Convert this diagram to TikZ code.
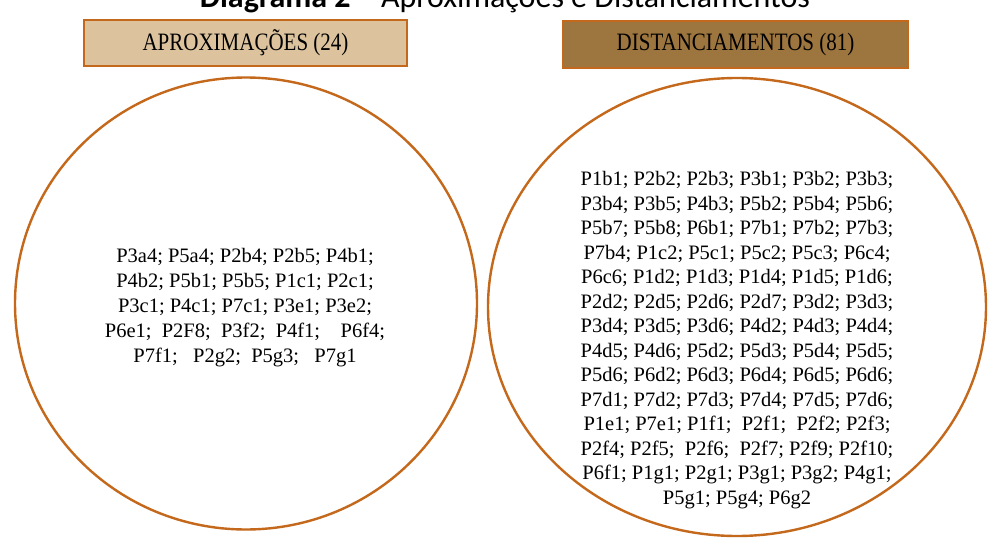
\documentclass[tikz,border=0pt]{standalone}
\usepackage{graphicx}
\usepackage{fontspec}
\setmainfont{Liberation Serif}
\newfontfamily\headfont{Carlito}
\usetikzlibrary{shapes.geometric}

\definecolor{rimorange}{RGB}{196,104,28}
\definecolor{tanfill}{RGB}{220,195,158}
\definecolor{brownfill}{RGB}{157,117,62}

% soft grey fade towards the corners of the slide area
\pgfdeclareradialshading{slidefade}{\pgfpoint{0bp}{0bp}}{%
  color(0bp)=(white); color(46bp)=(white); color(72bp)=(black!10)}

% narrow header lettering
\newcommand{\narrowcaps}[1]{\scalebox{0.84}[1]{#1}}

\tikzset{
  labelbox/.style={draw=rimorange, line width=2.4pt, inner sep=0pt,
    font=\fontsize{25}{28}\selectfont},
  setring/.style={ellipse, draw=rimorange, line width=2.4pt, inner sep=0pt},
  codelist/.style={align=center, inner sep=0pt, text=black}
}

\begin{document}
\begin{tikzpicture}[x=1pt,y=-1pt]
\useasboundingbox (0,0) rectangle (988,543);
\clip (0,0) rectangle (988,543);

% slide background
\path[shading=slidefade] (7,10) rectangle (988,543);

% caption, partly above the visible area
\node[anchor=base, inner sep=0pt, font=\headfont\fontsize{32}{36}\selectfont] (caption)
  at (505,8) {\textbf{Diagrama 2} – Aproximações e Distanciamentos};

% category headers
\node[labelbox, fill=tanfill, minimum width=323pt, minimum height=46pt] (aprox)
  at (245.5,43) {\narrowcaps{APROXIMAÇÕES (24)}};
\node[labelbox, fill=brownfill, minimum width=345pt, minimum height=47pt] (dist)
  at (735.5,44.5) {\narrowcaps{DISTANCIAMENTOS (81)}};

% the two sets
\node[setring, minimum width=462pt, minimum height=452pt] (ringA) at (246,303.5) {};
\node[setring, minimum width=498pt, minimum height=458pt] (ringD) at (737,307) {};

% contents of the sets
\node[codelist, font=\fontsize{20.5}{25}\selectfont] (listA) at (245,308) {%
P3a4; P5a4; P2b4; P2b5; P4b1;\\
P4b2; P5b1; P5b5; P1c1; P2c1;\\
P3c1; P4c1; P7c1; P3e1; P3e2;\\
P6e1;\ \ P2F8;\ \ P3f2;\ \ P4f1;\ \ \ \ P6f4;\\
P7f1;\ \ \ P2g2;\ \ P5g3;\ \ \ P7g1};

\node[codelist, font=\fontsize{20.5}{24.5}\selectfont] (listD) at (737,340) {%
P1b1; P2b2; P2b3; P3b1; P3b2; P3b3;\\
P3b4; P3b5; P4b3; P5b2; P5b4; P5b6;\\
P5b7; P5b8; P6b1; P7b1; P7b2; P7b3;\\
P7b4; P1c2; P5c1; P5c2; P5c3; P6c4;\\
P6c6; P1d2; P1d3; P1d4; P1d5; P1d6;\\
P2d2; P2d5; P2d6; P2d7; P3d2; P3d3;\\
P3d4; P3d5; P3d6; P4d2; P4d3; P4d4;\\
P4d5; P4d6; P5d2; P5d3; P5d4; P5d5;\\
P5d6; P6d2; P6d3; P6d4; P6d5; P6d6;\\
P7d1; P7d2; P7d3; P7d4; P7d5; P7d6;\\
P1e1; P7e1; P1f1;\ \ P2f1;\ \ P2f2; P2f3;\\
P2f4; P2f5;\ \ P2f6;\ \ P2f7; P2f9; P2f10;\\
P6f1; P1g1; P2g1; P3g1; P3g2; P4g1;\\
P5g1; P5g4; P6g2};

\end{tikzpicture}
\end{document}
